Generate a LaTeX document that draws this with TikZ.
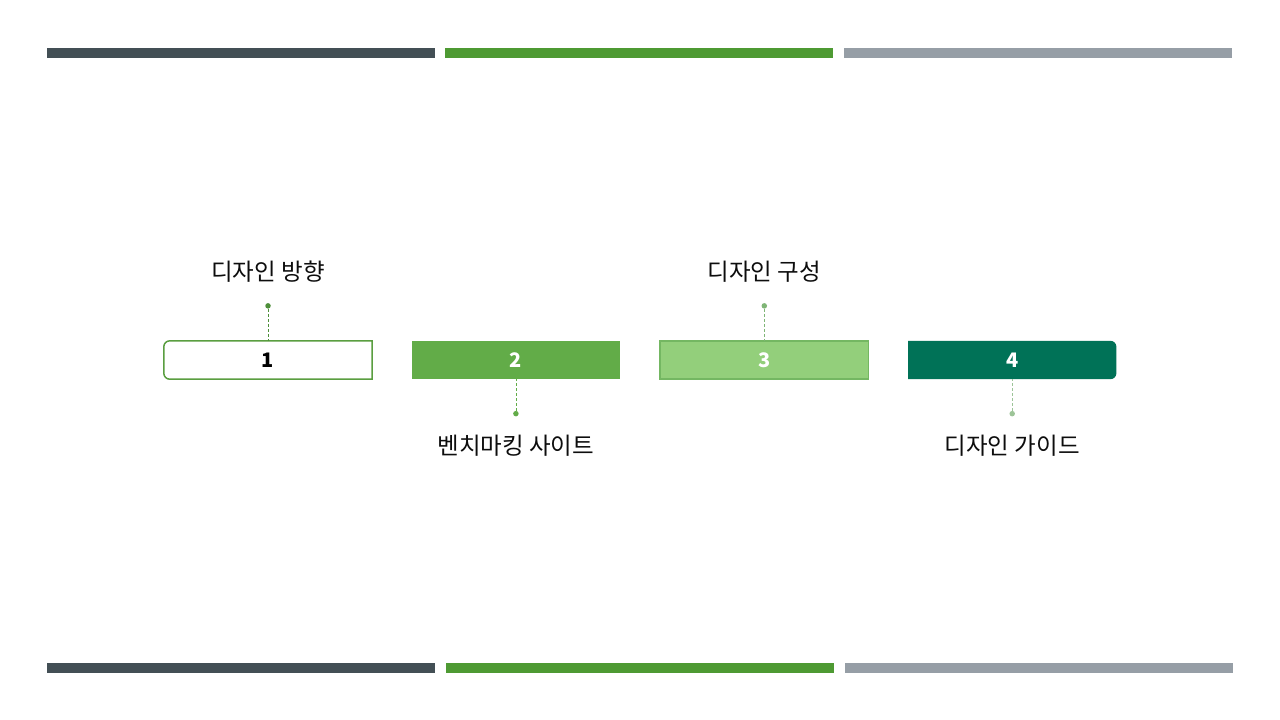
\documentclass[tikz,border=0pt]{standalone}
\usepackage{fontspec}
\setmainfont{Noto Sans CJK KR}
\usetikzlibrary{positioning}
\definecolor{barA}{HTML}{434F55}
\definecolor{barB}{HTML}{4E9A33}
\definecolor{barC}{HTML}{969EA6}
\definecolor{stepA}{HTML}{5A9E40}
\definecolor{stepB}{HTML}{62AC48}
\definecolor{stepC}{HTML}{93CF7B}
\definecolor{stepCline}{HTML}{74B762}
\definecolor{stepD}{HTML}{007257}
\definecolor{dotA}{HTML}{4E8F3A}
\definecolor{dotB}{HTML}{62AC48}
\definecolor{dotC}{HTML}{7FB576}
\definecolor{dotD}{HTML}{9DC498}

\begin{document}
\begin{tikzpicture}[x=1pt,y=-1pt,
  numbox/.style={minimum width=208pt,minimum height=38pt,inner sep=0pt,font=\fontsize{20}{20}\selectfont\bfseries},
  toplabel/.style={inner sep=0pt,font=\fontsize{23.5}{23.5}\selectfont,text=black!95},
  stepdot/.style={circle,inner sep=0pt,minimum size=5.5pt},
  lead/.style={dash pattern=on 3pt off 2pt,line width=0.8pt}]
\useasboundingbox[fill=white] (0,0) rectangle (1280,720);

\foreach \x/\c in {47/barA,445/barB,844/barC}{
\fill[\c] (\x,48) rectangle ++(388,10);}
\foreach \x/\c in {47/barA,446/barB,845/barC}{
\fill[\c] (\x,663) rectangle ++(388,10);}

\node[numbox] (b1) at (268,360) {};
\node[numbox,right=39.5pt of b1] (b2) {};
\node[numbox,right=40pt of b2] (b3) {};
\node[numbox,right=39.5pt of b3] (b4) {};

\draw[stepA,line width=1.5pt,fill=white] (b1.north) [rounded corners=6pt] -- (b1.north west) -- (b1.south west) -- (b1.south) [sharp corners] -- (b1.south east) -- (b1.north east) -- cycle;
\fill[stepB] (b2.south west) rectangle (b2.north east);
\draw[stepCline,line width=1.5pt,fill=stepC] (b3.south west) rectangle (b3.north east);
\fill[stepD] (b4.north) [rounded corners=6pt] -- (b4.north east) -- (b4.south east) -- (b4.south) [sharp corners] -- (b4.south west) -- (b4.north west) -- cycle;

\node[numbox,text=black] at (b1) {1};
\node[numbox,text=white] at (b2) {2};
\node[numbox,text=white] at (b3) {3};
\node[numbox,text=white] at (b4) {4};

\node[stepdot,fill=dotA,above=32pt of b1] (d1) {};
\node[stepdot,fill=dotB,below=31.5pt of b2] (d2) {};
\node[stepdot,fill=dotC,above=32pt of b3] (d3) {};
\node[stepdot,fill=dotD,below=31.5pt of b4] (d4) {};

\draw[lead,dotA] (d1) -- (b1);
\draw[lead,dotB] (d2) -- (b2);
\draw[lead,dotC] (d3) -- (b3);
\draw[lead,dotD] (d4) -- (b4);

\node[toplabel,above=20pt of d1] (l1) {디자인 방향};
\node[toplabel,below=18pt of d2] (l2) {벤치마킹 사이트};
\node[toplabel,above=20pt of d3] (l3) {디자인 구성};
\node[toplabel,below=18pt of d4] (l4) {디자인 가이드};
\end{tikzpicture}
\end{document}
